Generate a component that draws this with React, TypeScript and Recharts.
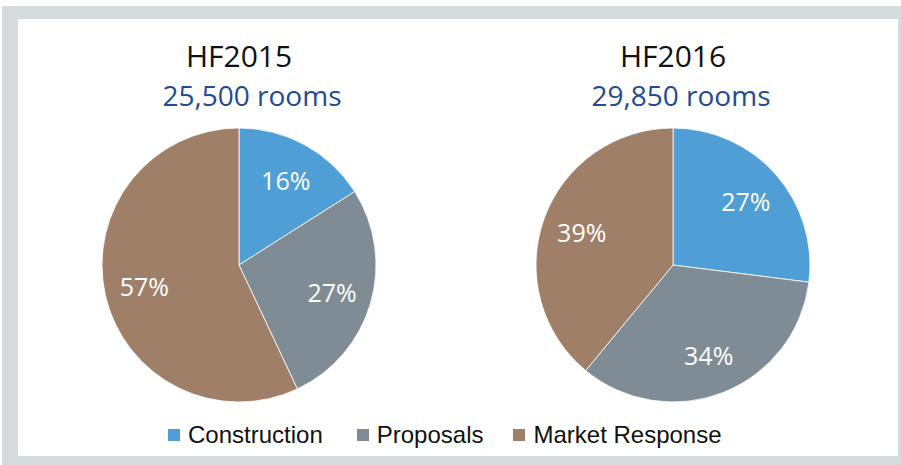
import React from "react";
import { PieChart, Pie, Cell, Legend } from "recharts";

const categories = ["Construction", "Proposals", "Market Response"];
const colors = ["#4f9fd6", "#7f8c96", "#a07f69"];
const hf2015Values = [16, 27, 57];
const hf2016Values = [27, 34, 39];
const titles = ["HF2015", "HF2016"];
const subtitles = ["25,500 rooms", "29,850 rooms"];

const data2015 = categories.map((name, i) => ({ name, value: hf2015Values[i] }));
const data2016 = categories.map((name, i) => ({ name, value: hf2016Values[i] }));

const RAD = Math.PI / 180;
const LABEL_R = 97;

const renderLabel = (props: any) => {
  const { cx, cy, midAngle, value } = props;
  const x = cx + LABEL_R * Math.cos(-midAngle * RAD);
  const y = cy + LABEL_R * Math.sin(-midAngle * RAD);
  return (
    <text
      x={x}
      y={y}
      fill="#ffffff"
      textAnchor="middle"
      dominantBaseline="central"
      style={{ fontFamily: "'Open Sans', sans-serif", fontSize: 25 }}
    >
      {`${value}%`}
    </text>
  );
};

const LegendContent = (props: any) => {
  const colorByName: Record<string, string> = {};
  (props.payload || []).forEach((p: any) => {
    if (p && p.value && !colorByName[p.value]) colorByName[p.value] = p.color;
  });
  const list = categories.map((c, i) => ({ value: c, color: colorByName[c] || colors[i] }));
  const gaps = [34, 30, 0];
  return (
    <div
      style={{
        display: "flex",
        alignItems: "center",
        paddingLeft: 168,
        fontFamily: "'Liberation Sans', Arial, sans-serif",
        fontSize: 24,
        lineHeight: "24px",
        color: "#111",
      }}
    >
      {list.map((it, i) => (
        <div
          key={it.value}
          style={{ display: "flex", alignItems: "center", marginRight: gaps[i] }}
        >
          <span
            style={{
              display: "inline-block",
              width: 12,
              height: 12,
              background: it.color,
              marginRight: 8,
            }}
          />
          <span>{it.value}</span>
        </div>
      ))}
    </div>
  );
};

const centersX = [239, 673];
const CY = 265;
const R = 137;

export default function App() {
  return (
    <div
      style={{
        position: "absolute",
        left: 0,
        top: 0,
        width: 901,
        height: 465,
        background: "#ffffff",
        overflow: "hidden",
      }}
    >
      <div
        style={{
          position: "absolute",
          left: 2,
          top: 6,
          width: 899,
          height: 459,
          background: "#d6dbde",
        }}
      />
      <div
        style={{
          position: "absolute",
          left: 18,
          top: 19,
          width: 880,
          height: 437,
          background: "#ffffff",
        }}
      />
      <div style={{ position: "absolute", left: 0, top: 0 }}>
        <PieChart width={901} height={465} margin={{ top: 0, right: 0, bottom: 0, left: 0 }}>
          <Pie
            data={data2015}
            dataKey="value"
            nameKey="name"
            cx={centersX[0]}
            cy={CY}
            outerRadius={R}
            startAngle={90}
            endAngle={-270}
            stroke="#ffffff"
            strokeWidth={0.8}
            label={renderLabel}
            labelLine={false}
            isAnimationActive={false}
          >
            {data2015.map((d, i) => (
              <Cell key={d.name} fill={colors[i]} />
            ))}
          </Pie>
          <Pie
            data={data2016}
            dataKey="value"
            nameKey="name"
            cx={centersX[1]}
            cy={CY}
            outerRadius={R}
            startAngle={90}
            endAngle={-270}
            stroke="#ffffff"
            strokeWidth={0.8}
            label={renderLabel}
            labelLine={false}
            isAnimationActive={false}
            legendType="none"
          >
            {data2016.map((d, i) => (
              <Cell key={d.name} fill={colors[i]} />
            ))}
          </Pie>
          <Legend
            content={<LegendContent />}
            wrapperStyle={{ position: "absolute", left: 0, top: 423, width: 901 }}
          />
        </PieChart>
      </div>
      <svg
        width={901}
        height={130}
        style={{ position: "absolute", left: 0, top: 0, pointerEvents: "none" }}
      >
        {titles.map((t, i) => (
          <text
            key={t}
            x={centersX[i]}
            y={67}
            textAnchor="middle"
            fill="#111111"
            style={{ fontFamily: "'Open Sans', sans-serif", fontSize: 30 }}
          >
            {t}
          </text>
        ))}
        {subtitles.map((t, i) => (
          <text
            key={t}
            x={centersX[i] + (i === 0 ? 13 : 8)}
            y={106}
            textAnchor="middle"
            fill="#234b91"
            style={{ fontFamily: "'Open Sans', sans-serif", fontSize: 28 }}
          >
            {t}
          </text>
        ))}
      </svg>
    </div>
  );
}
